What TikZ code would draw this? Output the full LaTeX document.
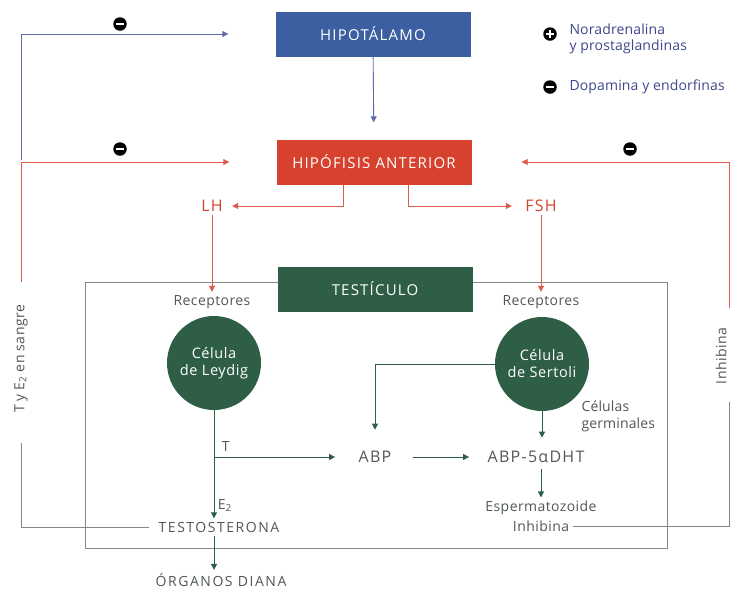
\documentclass[tikz,border=0pt]{standalone}
\usepackage{fontspec}
\setmainfont{Open Sans}
\usepackage{tikz}
\usetikzlibrary{arrows.meta,positioning}

\definecolor{hipoblue}{RGB}{59,95,160}
\definecolor{hipored}{RGB}{214,66,46}
\definecolor{testgreen}{RGB}{46,94,69}
\definecolor{lineblue}{RGB}{95,108,170}
\definecolor{linered}{RGB}{222,90,78}
\definecolor{linegray}{RGB}{135,135,135}
\definecolor{textgray}{RGB}{80,88,84}
\definecolor{legblue}{RGB}{62,72,140}

\begin{document}
\begin{tikzpicture}[x=1pt,y=-1pt,>={Triangle[length=6pt,width=6pt]},font=\fontsize{14}{16}\selectfont\addfontfeature{LetterSpace=3}]
        \useasboundingbox (0,0) rectangle (730,590);
        \tikzstyle{box}=[minimum width=195pt,minimum height=45pt,text=white,font=\fontsize{15}{17}\selectfont\addfontfeature{LetterSpace=8}]
        \tikzstyle{cell}=[circle,fill=testgreen,text=white,minimum size=94pt,inner sep=0pt,align=center,font=\fontsize{14.5}{17}\selectfont\addfontfeature{LetterSpace=4}]
        \tikzstyle{hormone}=[text=hipored,font=\fontsize{16}{18}\selectfont\addfontfeature{LetterSpace=8}]
        \tikzstyle{plain}=[text=textgray]
        \tikzstyle{caps}=[text=textgray,font=\fontsize{14}{16}\selectfont\addfontfeature{LetterSpace=11}]
        \tikzstyle{big}=[text=textgray,font=\fontsize{16}{18}\selectfont\addfontfeature{LetterSpace=8}]
        \tikzstyle{legend}=[text=legblue,anchor=west,align=left,font=\fontsize{14}{16}\selectfont\addfontfeature{LetterSpace=1}]
        \tikzstyle{inh}=[circle,fill=black,inner sep=0pt,minimum size=13.5pt,
            path picture={\draw[white,line width=1.8pt] ([xshift=-4pt]path picture bounding box.center) -- ([xshift=4pt]path picture bounding box.center);}]
        \tikzstyle{exc}=[circle,fill=black,inner sep=0pt,minimum size=13.5pt,
            path picture={\draw[white,line width=1.8pt] ([xshift=-4pt]path picture bounding box.center) -- ([xshift=4pt]path picture bounding box.center)
                ([yshift=-4pt]path picture bounding box.center) -- ([yshift=4pt]path picture bounding box.center);}]
        \tikzstyle{blueln}=[lineblue,line width=0.9pt]
        \tikzstyle{redln}=[linered,line width=0.9pt]
        \tikzstyle{greenln}=[testgreen,line width=0.9pt]
        \tikzstyle{grayln}=[linegray,line width=0.8pt]

        % main boxes
        \node[box,fill=hipoblue] (hipo) at (373,34) {HIPOTÁLAMO};
        \node[box,fill=hipored] (hipof) at (374,162) {HIPÓFISIS ANTERIOR};
        \draw[grayln] (85,282) rectangle (667,548);
        \node[box,fill=testgreen] (testi) at (375,289) {TESTÍCULO};

        % hormones and cells
        \node[hormone] (lh) at (212,206) {LH};
        \node[hormone] (fsh) at (541,206) {FSH};
        \node[plain] (recL) at (212,302) {Receptores};
        \node[plain] (recR) at (541,302) {Receptores};
        \node[cell] (leydig) at (214,363) {Célula\\de Leydig};
        \node[cell] (sertoli) at (542,364) {Célula\\de Sertoli};
        \node[big] (abp) at (375,457) {ABP};
        \node[big] (abpd) at (536,457) {ABP-5αDHT};
        \node[plain,anchor=west,align=left,font=\fontsize{14}{17}\selectfont\addfontfeature{LetterSpace=1}] (germ) at (578,416) {Células\\germinales};
        \node[plain] (esp) at (541,508) {Espermatozoide};
        \node[plain] (inhi) at (541,526) {Inhibina};
        \node[caps] (testo) at (219,527) {TESTOSTERONA};
        \node[caps] (organos) at (221,580) {ÓRGANOS DIANA};
        \node[plain,rotate=90] (sangre) at (21,359) {T y E\textsubscript{2} en sangre};
        \node[plain,rotate=90] (inhib) at (721,356) {Inhibina};

        % legend
        \node[exc] (plus) at (550,34) {};
        \node[legend] (plustx) at (566,39) {Noradrenalina\\y prostaglandinas};
        \node[inh] (minus) at (550,87) {};
        \node[legend] (minustx) at (566,87) {Dopamina y endorfinas};

        % feedback loops
        \coordinate (lt) at (21,282);
        \coordinate (lm) at (21,160);
        \coordinate (lb) at (21,443);
        \coordinate (rt) at (729,308);
        \coordinate (rb) at (729,402);
        \draw[redln,->,shorten >=47pt] (lt) |- (hipof.west);
        \draw[blueln,->,shorten >=47pt] (lm) |- (hipo.west);
        \draw[grayln,shorten >=6pt] (lb) |- (testo.west);
        \draw[redln,->,shorten >=50pt] (rt) |- (hipof.east);
        \draw[grayln] (inhi.east) -| (rb);
        \node[inh] (m1) at (120,24) {};
        \node[inh] (m2) at (120,149) {};
        \node[inh] (m3) at (630,149) {};

        % axis
        \draw[blueln,->,shorten >=17pt] (hipo) -- (hipof);
        \draw[redln,->,shorten >=6pt] ([xshift=-31pt]hipof.south) |- (lh.east);
        \draw[redln,->,shorten >=10pt] ([xshift=34pt]hipof.south) |- (fsh.west);
        \draw[redln,->] (lh) -- (recL);
        \draw[redln,->] (fsh) -- (recR);

        % inside the testis
        \coordinate (tb) at (leydig.south |- abp);
        \draw[greenln,->] (leydig) -- (leydig |- testo.north) node[pos=0.88,right,text=textgray] {E\textsubscript{2}};
        \draw[greenln,->,shorten >=20pt] (tb) -- (abp) node[pos=0,anchor=south west,xshift=4pt,yshift=2pt,text=textgray] {T};
        \draw[greenln,->,shorten >=18pt] (sertoli.west) -| (abp.north);
        \draw[greenln,->,shorten <=18pt,shorten >=15pt] (abp) -- (abpd);
        \draw[greenln,->,shorten >=10pt] (sertoli) -- (sertoli |- abpd.north);
        \draw[greenln,->,shorten <=3pt] (abpd.south -| esp) -- (esp);
        \draw[greenln,->] (testo.south -| leydig) -- (organos.north -| leydig);
\end{tikzpicture}
\end{document}
